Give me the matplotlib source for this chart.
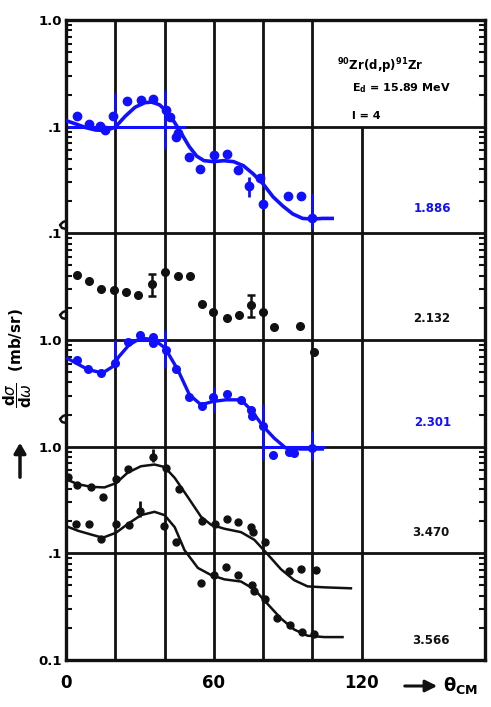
import matplotlib
matplotlib.use("Agg")
import matplotlib.pyplot as plt
import matplotlib.transforms as mtransforms
from matplotlib.ticker import LogLocator, NullFormatter, FixedLocator, FixedFormatter
import numpy as np

# ---------------- data ----------------
levels = ["1.886", "2.132", "2.301", "3.470", "3.566"]

# 1.886 MeV (blue)
p1_theta = [4.3, 9.5, 13.9, 16.0, 19.2, 24.6, 30.4, 35.2, 40.6, 42.0, 44.6, 45.3, 49.8, 54.4,
            60.2, 65.2, 69.6, 74.4, 78.7, 79.8, 90.2, 95.3, 99.8]
p1_sigma = [0.126, 0.105, 0.1015, 0.093, 0.127, 0.173, 0.176, 0.18, 0.144, 0.124, 0.080, 0.088,
            0.052, 0.040, 0.054, 0.055, 0.039, 0.028, 0.033, 0.019, 0.0225, 0.0225, 0.0139]
c1_theta = [0, 4, 8, 12, 16, 20, 24, 28, 32, 35, 38, 41, 44, 47, 50, 53, 56, 60, 64, 68, 72, 76,
            80, 84, 88, 92, 96, 100, 104, 108]
c1_sigma = [0.114, 0.106, 0.098, 0.093, 0.092, 0.099, 0.125, 0.152, 0.168, 0.170, 0.160, 0.138,
            0.110, 0.085, 0.065, 0.053, 0.048, 0.047, 0.048, 0.047, 0.043, 0.036, 0.029, 0.022,
            0.018, 0.0152, 0.0138, 0.0136, 0.0138, 0.0138]
p1_err_theta = [74.4]
p1_err_lo = [0.022]
p1_err_hi = [0.034]
m1_theta = [20, 40, 100]
m1_lo = [0.1, 0.062, 0.011]
m1_hi = [0.206, 0.22, 0.024]

# 2.132 MeV (black, no curve)
p2_theta = [4.6, 9.3, 14.1, 19.5, 24.2, 29.2, 34.8, 40.0, 45.3, 50.3, 55.0, 59.8, 65.5, 70.2,
            74.9, 80.0, 84.3, 95.0]
p2_sigma = [0.041, 0.0354, 0.0302, 0.0295, 0.0279, 0.0263, 0.0336, 0.0438, 0.0394, 0.0394,
            0.0218, 0.0185, 0.016, 0.0172, 0.0214, 0.0183, 0.0132, 0.0134]
p2_err_theta = [34.8, 74.9]
p2_err_lo = [0.0256, 0.0166]
p2_err_hi = [0.0417, 0.0265]

# 2.301 MeV (blue)
p3_theta = [4.3, 9.0, 14.4, 19.8, 25.2, 29.9, 35.3, 35.5, 40.4, 44.7, 50.1, 55.2, 59.8, 65.2,
            71.0, 75.0, 75.5, 80.0, 83.8, 90.5, 92.6, 100.0]
p3_sigma = [0.65, 0.54, 0.495, 0.61, 0.96, 1.11, 1.07, 0.94, 0.81, 0.54, 0.295, 0.238, 0.295,
            0.313, 0.275, 0.222, 0.195, 0.155, 0.084, 0.090, 0.088, 0.098]
c3_theta = [0.7, 4.5, 8.8, 14.8, 18.8, 21.5, 25.6, 30.3, 35.7, 40.2, 45.4, 50.1, 54.8, 59.5,
            64.9, 71.0, 75.0, 80.0, 84.5, 89.2, 95.0, 104.0]
c3_sigma = [0.67, 0.60, 0.53, 0.49, 0.56, 0.70, 0.90, 1.04, 1.01, 0.84, 0.524, 0.306, 0.247,
            0.265, 0.275, 0.275, 0.222, 0.155, 0.12, 0.097, 0.095, 0.095]
p3_black_theta = [100.6]
p3_black_sigma = [0.78]
m3_theta = [20, 40, 60, 80, 100]
m3_lo = [0.56, 0.55, 0.21, 0.075, 0.075]
m3_hi = [1.0, 1.24, 0.36, 0.25, 0.14]

# 3.470 MeV (black)
p4_theta = [1.0, 4.4, 10.2, 14.9, 20.3, 25.0, 35.1, 40.5, 45.9, 55.3, 60.4, 65.4, 69.9, 75.2,
            75.7, 80.6, 90.3, 95.3, 101.4]
p4_sigma = [0.52, 0.436, 0.423, 0.335, 0.495, 0.62, 0.80, 0.63, 0.40, 0.20, 0.187, 0.212, 0.195,
            0.178, 0.158, 0.128, 0.068, 0.071, 0.070]
c4_theta = [0, 4.8, 10.2, 15.6, 20.3, 25.0, 30.4, 35.9, 40.0, 44.1, 49.5, 54.8, 58.9, 64.3,
            71.0, 76.4, 81.8, 87.2, 92.6, 98.0, 104.8, 115.6]
c4_sigma = [0.495, 0.445, 0.42, 0.415, 0.455, 0.57, 0.655, 0.68, 0.645, 0.51, 0.335, 0.22,
            0.185, 0.17, 0.158, 0.134, 0.098, 0.071, 0.056, 0.049, 0.048, 0.047]
p4_err_theta = [35.1]
p4_err_lo = [0.72]
p4_err_hi = [0.95]

# 3.566 MeV (black)
p5_theta = [4.1, 9.5, 14.2, 20.3, 25.6, 30.0, 39.8, 44.5, 54.6, 60.0, 65.0, 69.9, 75.6, 76.4,
            80.6, 85.6, 91.0, 95.7, 100.8]
p5_sigma = [0.188, 0.188, 0.137, 0.188, 0.185, 0.25, 0.18, 0.128, 0.0524, 0.0625, 0.0738,
            0.0625, 0.051, 0.0445, 0.037, 0.0245, 0.0212, 0.0185, 0.0177]
c5_theta = [0, 4.8, 10.2, 14.9, 20.3, 25.0, 30.4, 35.9, 40.0, 44.1, 48.1, 53.5, 58.9, 64.3,
            71.0, 76.4, 81.8, 87.2, 92.6, 98.0, 104.8, 112.2]
c5_sigma = [0.18, 0.163, 0.15, 0.14, 0.156, 0.188, 0.228, 0.245, 0.228, 0.176, 0.107, 0.073,
            0.0625, 0.057, 0.0544, 0.046, 0.0335, 0.0245, 0.0193, 0.0169, 0.0164, 0.0164]
p5_err_theta = [30.0]
p5_err_lo = [0.217]
p5_err_hi = [0.31]

# stacked-plot decade offsets for each panel
scale1, scale2, scale3, scale45 = 1.0, 0.1, 1e-3, 1e-4

ytick_vals = [1e-6, 1e-5, 1e-4, 1e-3, 1e-2, 1e-1, 1e0]
ytick_labels = ["0.1", ".1", "1.0", "1.0", ".1", ".1", "1.0"]
xtick_vals = [0, 60, 120]
xtick_labels = ["0", "60", "120"]
vgrid = [20, 40, 60, 80, 100]

# ---------------- figure ----------------
W, H = 491, 707
fig = plt.figure(figsize=(W / 100, H / 100), dpi=100)
fig.patch.set_facecolor("white")
L, R, T, B = 66, 485, 20, 660
ax = fig.add_axes([L / W, 1 - B / H, (R - L) / W, (B - T) / H])
ax.set_yscale("log")
ax.set_xlim(0, 170)
ax.set_ylim(1e-6, 1.0)

BLUE = "#1010ff"
BLK = "#111111"

def s(vals, f):
    return [v * f for v in vals]

# grid lines
for yv in ytick_vals[1:-1]:
    ax.axhline(yv, color=BLK, lw=2.0, zorder=1)
for xv in vgrid:
    ax.axvline(xv, color=BLK, lw=2.0, zorder=1)
ax.vlines(120, 1e-6, 1e-1, color=BLK, lw=2.0, zorder=1)

# panel 1
ax.axhline(0.1 * scale1, xmin=0, xmax=48 / 170, color=BLUE, lw=2.2, zorder=2)
ax.vlines(m1_theta, s(m1_lo, scale1), s(m1_hi, scale1), color=BLUE, lw=2.0, zorder=2)
ax.plot(c1_theta, s(c1_sigma, scale1), color=BLUE, lw=2.6, zorder=3)
ax.plot(p1_theta, s(p1_sigma, scale1), "o", color=BLUE, ms=6, zorder=4)
ax.vlines(p1_err_theta, s(p1_err_lo, scale1), s(p1_err_hi, scale1), color=BLUE, lw=2, zorder=4)

# panel 2
ax.plot(p2_theta, s(p2_sigma, scale2), "o", color=BLK, ms=5.5, zorder=4)
ax.errorbar(p2_err_theta, [np.sqrt(a * b) * scale2 for a, b in zip(p2_err_lo, p2_err_hi)],
            yerr=[[(np.sqrt(a * b) - a) * scale2 for a, b in zip(p2_err_lo, p2_err_hi)],
                  [(b - np.sqrt(a * b)) * scale2 for a, b in zip(p2_err_lo, p2_err_hi)]],
            fmt="none", ecolor=BLK, elinewidth=1.8, capsize=3, capthick=1.8, zorder=4)

# panel 3
ax.hlines(1.0 * scale3, 23, 41, color=BLUE, lw=2.2, zorder=2)
ax.hlines(0.1 * scale3, 80, 105, color=BLUE, lw=2.2, zorder=2)
ax.vlines(m3_theta, s(m3_lo, scale3), s(m3_hi, scale3), color=BLUE, lw=2.0, zorder=2)
ax.plot(c3_theta, s(c3_sigma, scale3), color=BLUE, lw=2.4, zorder=3)
ax.plot(p3_theta, s(p3_sigma, scale3), "o", color=BLUE, ms=5.5, zorder=4)
ax.plot(p3_black_theta, s(p3_black_sigma, scale3), "o", color=BLK, ms=5.5, zorder=4)

# panels 4 and 5
ax.plot(c4_theta, s(c4_sigma, scale45), color=BLK, lw=1.8, zorder=3)
ax.plot(p4_theta, s(p4_sigma, scale45), "o", color=BLK, ms=5, zorder=4)
ax.vlines(p4_err_theta, s(p4_err_lo, scale45), s(p4_err_hi, scale45), color=BLK, lw=2, zorder=4)
ax.plot(c5_theta, s(c5_sigma, scale45), color=BLK, lw=1.8, zorder=3)
ax.plot(p5_theta, s(p5_sigma, scale45), "o", color=BLK, ms=5, zorder=4)
ax.vlines(p5_err_theta, s(p5_err_lo, scale45), s(p5_err_hi, scale45), color=BLK, lw=2, zorder=4)

# axes styling
for sp in ax.spines.values():
    sp.set_linewidth(2.4)
    sp.set_color(BLK)
ax.yaxis.set_major_locator(FixedLocator(ytick_vals))
ax.yaxis.set_major_formatter(FixedFormatter(ytick_labels))
ax.yaxis.set_minor_locator(LogLocator(base=10, subs=np.arange(2, 10), numticks=20))
ax.yaxis.set_minor_formatter(NullFormatter())
ax.tick_params(axis="y", which="major", length=0, pad=3, labelsize=9.5)
ax.tick_params(axis="y", which="minor", direction="in", length=4.5, width=1.5,
               left=True, right=True, color=BLK)
for lab in ax.get_yticklabels():
    lab.set_fontweight("bold")
ax.set_xticks(xtick_vals)
ax.set_xticklabels(xtick_labels, fontsize=12, fontweight="bold")
ax.tick_params(axis="x", which="major", length=0, pad=10)
ax.tick_params(axis="x", which="minor", length=0)

# axis-break marks on left axis
trans = mtransforms.blended_transform_factory(ax.transAxes, ax.transData)
px_x = 1.0 / (R - L)
for yb_pix in [226, 316, 420]:
    yb = 10 ** (-(yb_pix - T) / ((B - T) / 6.0))
    f = 10 ** (1.0 / ((B - T) / 6.0))
    xs = [0.0, -3 * px_x, -6 * px_x, -4 * px_x, 0.0]
    ys = [yb * f ** 5, yb * f ** 4, yb * f ** 1, yb * f ** -2, yb * f ** -3]
    ax.plot(xs, ys, color=BLK, lw=1.8, transform=trans, clip_on=False, zorder=5)

# text
def fx(px):
    return px / W

def fy(py):
    return 1 - py / H

fig.text(fx(337), fy(66), r"$^{\mathbf{90}}$Zr(d,p)$^{\mathbf{91}}$Zr", fontsize=8.5,
         fontweight="bold", ha="left", va="center")
fig.text(fx(352), fy(88), r"E$_{\mathbf{d}}$ = 15.89 MeV", fontsize=8, fontweight="bold",
         ha="left", va="center")
fig.text(fx(352), fy(116), "l = 4", fontsize=8, fontweight="bold", ha="left", va="center")

label_pos = [(432, 209, BLUE), (432, 318, BLK), (433, 423, BLUE), (431, 532, BLK), (431, 640, BLK)]
for txt, (xp, yp, col) in zip(levels, label_pos):
    fig.text(fx(xp), fy(yp), txt, fontsize=8.5, fontweight="bold", color=col,
             ha="center", va="center")

fig.text(fx(18), fy(358), r"$\dfrac{\mathbf{d}\sigma}{\mathbf{d}\omega}$  (mb/sr)", rotation=90,
         fontsize=11, fontweight="bold", ha="center", va="center")
fig.add_artist(matplotlib.patches.FancyArrowPatch(
    (fx(20), fy(480)), (fx(20), fy(440)), transform=fig.transFigure,
    arrowstyle="-|>,head_length=6,head_width=3.5", color=BLK, lw=2.5))

fig.add_artist(matplotlib.patches.FancyArrowPatch(
    (fx(402), fy(686)), (fx(440), fy(686)), transform=fig.transFigure,
    arrowstyle="-|>,head_length=7,head_width=3.5", color=BLK, lw=2.2))
fig.text(fx(443), fy(686), r"$\mathbf{\theta_{CM}}$", fontsize=13, ha="left", va="center")

fig.savefig("out.png", dpi=100, facecolor="white")
